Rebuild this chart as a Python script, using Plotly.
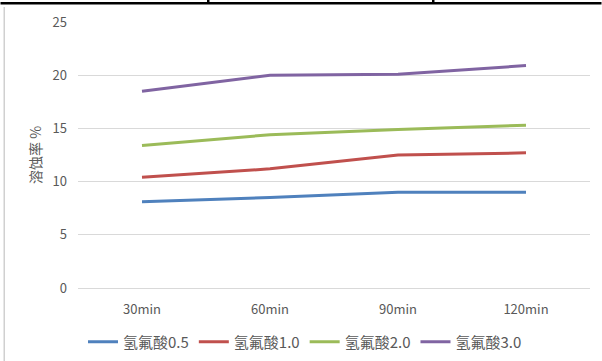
import plotly.graph_objects as go

categories = ["30min", "60min", "90min", "120min"]
series_names = ["氢氟酸0.5", "氢氟酸1.0", "氢氟酸2.0", "氢氟酸3.0"]
hf_05 = [8.1, 8.5, 9.0, 9.0]
hf_10 = [10.4, 11.2, 12.5, 12.7]
hf_20 = [13.4, 14.4, 14.9, 15.3]
hf_30 = [18.5, 20.0, 20.1, 20.9]
y_ticks = [0, 5, 10, 15, 20, 25]
colors = ["#4F81BD", "#C0504D", "#9BBB59", "#8064A2"]

font_family = "Noto Sans CJK SC, Noto Sans, sans-serif"
fig = go.Figure()
for name, vals, col in zip(series_names, [hf_05, hf_10, hf_20, hf_30], colors):
    fig.add_trace(go.Scatter(x=categories, y=vals, mode="lines", name=name,
                             line=dict(color=col, width=3)))

W, H = 602, 361
L, R, T, B = 78, 12, 22, 73
pw, ph = W - L - R, H - T - B


def px(x):
    return (x - L) / pw


def py(y):
    return (H - B - y) / ph


fig.update_layout(
    width=W, height=H,
    margin=dict(l=L, r=R, t=T, b=B, autoexpand=False),
    paper_bgcolor="white", plot_bgcolor="white",
    font=dict(family=font_family, size=13, color="#595959"),
    showlegend=True,
    legend=dict(orientation="h", x=px(305), xanchor="center", y=py(342), yanchor="middle",
                font=dict(size=15, color="#595959"), bgcolor="rgba(0,0,0,0)",
                itemwidth=30, tracegroupgap=0),
    xaxis=dict(type="category", range=[-0.5, 3.5], showgrid=False, showline=False,
               zeroline=False, ticks="",
               tickfont=dict(size=13, color="#595959"), ticklabelstandoff=12),
    yaxis=dict(range=[0, 25], tickvals=y_ticks, showgrid=True, gridcolor="#D9D9D9",
               gridwidth=1, zeroline=True, zerolinecolor="#D9D9D9", zerolinewidth=1,
               showline=False, ticks="", tickfont=dict(size=13, color="#595959"),
               ticklabelstandoff=10),
    annotations=[dict(text="溶蚀率 %", textangle=-90, xref="paper", yref="paper",
                      x=px(35), y=py(155), xanchor="center",
                      yanchor="middle", showarrow=False,
                      font=dict(size=14, color="#595959", family=font_family))],
    shapes=[
        dict(type="rect", xref="paper", yref="paper", x0=px(0.5), x1=px(601.5),
             y0=py(2), y1=py(4.5), line=dict(width=0), fillcolor="black", layer="above"),
        dict(type="rect", xref="paper", yref="paper", x0=px(207), x1=px(209.5),
             y0=py(0), y1=py(3), line=dict(width=0), fillcolor="black", layer="above"),
        dict(type="rect", xref="paper", yref="paper", x0=px(432), x1=px(434.5),
             y0=py(0), y1=py(3), line=dict(width=0), fillcolor="black", layer="above"),
        dict(type="rect", xref="paper", yref="paper", x0=px(3.5), x1=px(5),
             y0=py(7), y1=py(361), line=dict(width=0), fillcolor="#D0D0D0"),
    ],
)

fig.write_html("out.html")
